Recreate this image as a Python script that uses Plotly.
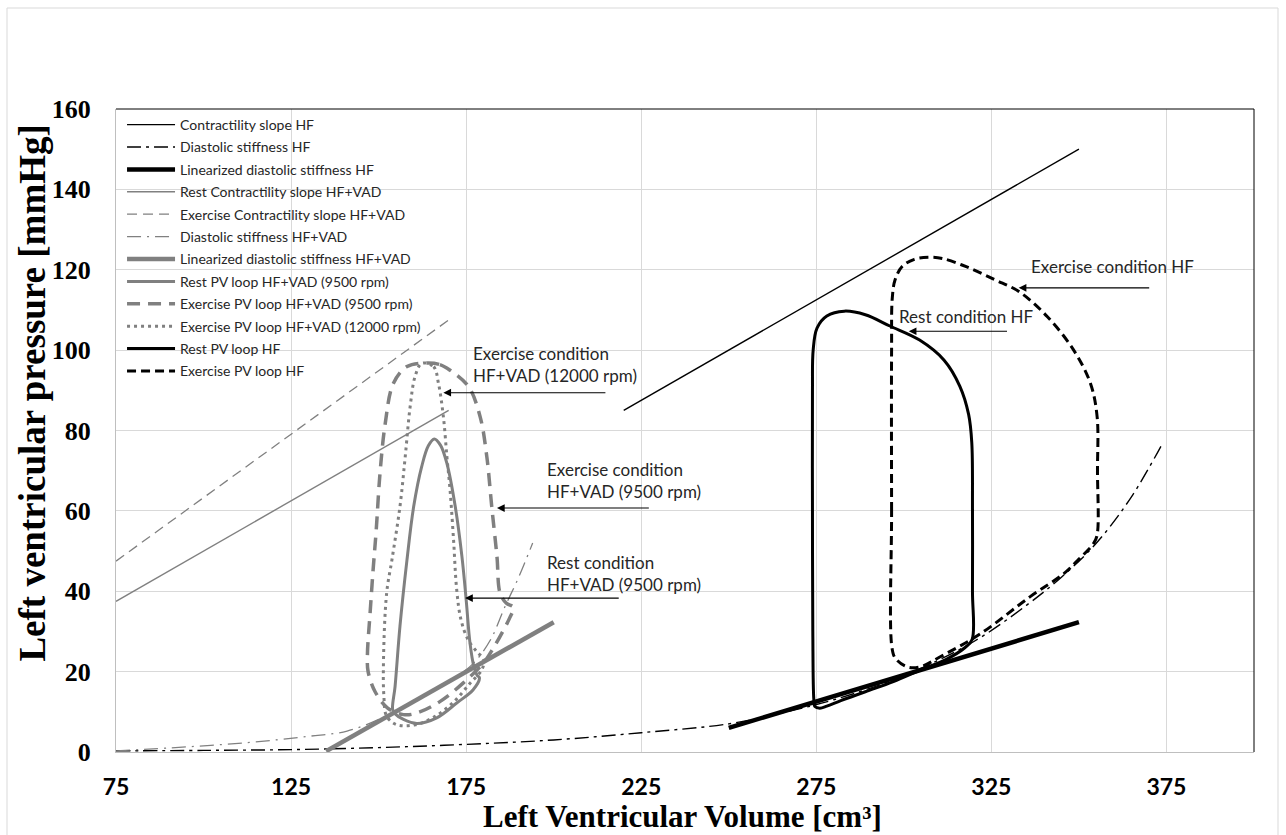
import plotly.graph_objects as go

# ---------------- data ----------------
# straight reference lines (V in cm3, P in mmHg)
contr_hf_v = [220, 350]
contr_hf_p = [85, 150]
rest_contr_vad_v = [75, 170]
rest_contr_vad_p = [37.5, 85]
ex_contr_vad_v = [75, 170]
ex_contr_vad_p = [47.5, 107.5]
lin_hf_v = [250, 350]
lin_hf_p = [6, 32.3]
lin_vad_v = [135, 200]
lin_vad_p = [0.2, 32.3]

# diastolic stiffness curves
dia_hf_v = [75, 100, 125, 150, 175, 200, 225, 250, 265, 280, 300, 320, 335, 345, 355, 365, 374]
dia_hf_p = [0.3, 0.4, 0.6, 1.1, 1.9, 3.0, 4.8, 7.0, 9.7, 13.0, 19.0, 27.5, 36.5, 43.5, 52.0, 63.5, 77.0]
dia_vad_v = [75, 90, 112, 130, 141, 151, 161, 170, 177, 182, 186, 190, 194]
dia_vad_p = [0.3, 1.0, 2.3, 3.9, 5.2, 8.5, 13.0, 17.5, 22.0, 28.0, 36.0, 43.5, 52.0]

# PV loops
rest_vad_v = [154.0, 154.7, 156.1, 158.1, 160.0, 162.3, 164.2, 165.9, 167.7, 169.5, 171.9, 173.8,
              175.0, 176.1, 177.2, 178.2, 178.8, 177.0, 172.3, 166.6, 160.9, 157.1, 154.6, 154.0]
rest_vad_p = [10.6, 16.3, 31.3, 47.8, 61.0, 71.0, 76.2, 77.9, 76.3, 71.8, 61.0, 48.6,
              37.9, 27.1, 21.3, 19.0, 18.5, 15.5, 12.2, 8.5, 7.1, 8.1, 9.6, 10.6]

ex9500_vad_v = [163.8, 167.5, 170.4, 175.7, 179.0, 180.9, 182.3, 183.8, 184.7, 186.5, 188.5, 187.5,
                185.7, 182.8, 180.0, 174.2, 167.6, 160.9, 157.1, 152.5, 149.0, 147.0, 146.8, 147.6,
                148.4, 149.3, 150.4, 151.9, 154.2, 158.1, 163.8]
ex9500_vad_p = [96.8, 96.4, 95.0, 90.9, 83.4, 73.5, 61.1, 48.6, 39.5, 37.0, 36.0, 33.5,
                30.4, 25.9, 22.2, 17.2, 12.6, 9.7, 9.3, 11.0, 15.0, 20.0, 24.0, 35.0,
                45.0, 55.0, 69.4, 81.8, 91.7, 95.9, 96.8]

ex12000_vad_v = [162.3, 165.7, 167.1, 168.5, 169.5, 170.4, 171.4, 172.3, 173.5, 175.5, 178.0, 180.0,
                 179.5, 176.0, 171.5, 166.0, 160.5, 155.2, 152.3, 151.5, 151.4, 152.3, 153.8, 156.1,
                 157.6, 159.0, 160.4, 162.3]
ex12000_vad_p = [96.7, 95.9, 91.7, 83.4, 73.5, 65.2, 52.8, 40.4, 33.0, 28.0, 25.0, 23.0,
                 20.5, 17.0, 12.5, 8.8, 6.8, 6.8, 8.9, 14.0, 23.0, 39.6, 47.8, 61.1,
                 73.5, 85.9, 93.4, 96.7]

rest_hf_v = [274.3, 274.0, 273.9, 273.9, 274.1, 275.2, 278.0, 283.0, 289.0, 296.0, 304.5, 311.5,
             316.0, 318.5, 319.4, 319.6, 319.6, 319.5, 317.5, 312.0, 305.0, 297.0, 289.0, 282.0,
             278.0, 276.0, 274.6, 274.3]
rest_hf_p = [13.0, 30.0, 60.0, 90.0, 100.0, 105.5, 108.5, 109.7, 108.8, 106.0, 102.5, 97.5,
             91.0, 84.0, 77.0, 60.0, 40.0, 28.0, 26.0, 23.0, 20.5, 17.5, 15.0, 12.8,
             11.4, 10.9, 11.3, 13.0]

ex_hf_v = [296.6, 296.5, 296.5, 296.7, 297.5, 299.5, 303.0, 307.0, 311.0, 318.0, 326.0, 333.0,
           341.0, 348.5, 353.3, 355.2, 355.3, 355.2, 354.2, 350.0, 345.7, 336.0, 322.0, 310.4,
           304.7, 300.9, 297.6, 296.6]
ex_hf_p = [26.0, 60.0, 100.0, 113.0, 117.5, 120.8, 122.6, 123.1, 122.8, 120.7, 117.5, 114.5,
           108.3, 100.0, 91.7, 83.4, 70.0, 54.0, 51.9, 48.0, 44.4, 38.6, 29.5, 23.7,
           21.2, 21.2, 23.3, 26.0]

x_ticks = [75, 125, 175, 225, 275, 325, 375]
y_ticks = [0, 20, 40, 60, 80, 100, 120, 140, 160]

# ---------------- styles ----------------
BLACK = "#000000"
GRAY = "#808080"
LEG_FONT = "Lato"

fig = go.Figure()


def add(name, v, p, color, width, dash="solid", shape="linear"):
    fig.add_trace(go.Scatter(
        x=v, y=p, mode="lines", name=name, legendgroup=name,
        line=dict(color=color, width=width, dash=dash, shape=shape),
        hoverinfo="skip"))


add("Contractility slope HF", contr_hf_v, contr_hf_p, BLACK, 1.4)
add("Diastolic stiffness HF", dia_hf_v, dia_hf_p, BLACK, 1.4, "14px,5px,3px,5px", "spline")
add("Linearized diastolic stiffness HF", lin_hf_v, lin_hf_p, BLACK, 4.5)
add("Rest Contractility slope HF+VAD", rest_contr_vad_v, rest_contr_vad_p, GRAY, 1.4)
add("Exercise Contractility slope HF+VAD", ex_contr_vad_v, ex_contr_vad_p, GRAY, 1.3, "10px,6px")
add("Diastolic stiffness HF+VAD", dia_vad_v, dia_vad_p, GRAY, 1.3, "14px,6px,2px,6px", "spline")
add("Linearized diastolic stiffness HF+VAD", lin_vad_v, lin_vad_p, GRAY, 4.5)
add("Rest PV loop HF+VAD (9500 rpm)", rest_vad_v, rest_vad_p, GRAY, 3, "solid", "spline")
add("Exercise PV loop HF+VAD (9500 rpm)", ex9500_vad_v, ex9500_vad_p, GRAY, 3.5, "13px,8px", "spline")
add("Exercise PV loop HF+VAD (12000 rpm)", ex12000_vad_v, ex12000_vad_p, GRAY, 3, "3px,4px", "spline")
add("Rest PV loop HF", rest_hf_v, rest_hf_p, BLACK, 3, "solid", "spline")
add("Exercise PV loop HF", ex_hf_v, ex_hf_p, BLACK, 3, "9px,5px", "spline")

# ---------------- annotations ----------------
ann = []
TXT = dict(family=LEG_FONT, size=17, color="#262626")
texts = [
    ("Exercise condition HF", 335.6, 120.9),
    ("Rest condition HF", 298.1, 108.3),
    ("Exercise condition<br>HF+VAD (12000 rpm)", 176.3, 96.4),
    ("Exercise condition<br>HF+VAD (9500 rpm)", 197.4, 67.5),
    ("Rest condition<br>HF+VAD (9500 rpm)", 197.4, 44.4),
]
for t, x, y in texts:
    ann.append(dict(text=t, x=x, y=y, xref="x", yref="y", xanchor="left", yanchor="middle",
                    align="left", showarrow=False, font=TXT))
arrows = [
    (332.8, 115.5, 370.5, 115.5),
    (301.4, 104.7, 329.9, 104.7),
    (168.5, 89.4, 215.2, 89.4),
    (183.8, 60.7, 227.6, 60.7),
    (174.7, 38.3, 219.0, 38.3),
]
for hx, hy, tx, ty in arrows:
    ann.append(dict(text="", x=hx, y=hy, ax=tx, ay=ty, xref="x", yref="y", axref="x", ayref="y",
                    showarrow=True, arrowhead=2, arrowsize=1.4, arrowwidth=1.1, arrowcolor=BLACK,
                    standoff=0, startstandoff=0))

# axis titles
ann.append(dict(text="<b>Left Ventricular Volume [cm³]</b>", xref="paper", yref="paper",
                x=0.4982, y=-0.1, xanchor="center", yanchor="middle", showarrow=False,
                font=dict(family="Liberation Serif", size=31, color=BLACK)))
ann.append(dict(text="<b>Left ventricular pressure [mmHg]</b>", xref="paper", yref="paper",
                x=-0.0735, y=0.558, xanchor="center", yanchor="middle", showarrow=False, textangle=-90,
                font=dict(family="Liberation Serif", size=37, color=BLACK)))

shapes = [
    # plot frame top and right (black)
    dict(type="line", xref="paper", yref="paper", x0=0, x1=1, y0=1, y1=1,
         line=dict(color=BLACK, width=1), layer="above"),
    dict(type="line", xref="paper", yref="paper", x0=1, x1=1, y0=0, y1=1,
         line=dict(color=BLACK, width=1), layer="above"),
    # chart area border
    dict(type="rect", xref="paper", yref="paper",
         x0=(7 - 116) / 1138, x1=(1278 - 116) / 1138,
         y0=(752 - 840) / 643, y1=(752 - 8) / 643,
         line=dict(color="#d9d9d9", width=1), layer="below"),
]

fig.update_layout(
    width=1286, height=835,
    margin=dict(l=116, r=32, t=109, b=83),
    paper_bgcolor="white", plot_bgcolor="white",
    showlegend=True,
    legend=dict(x=0.0053, y=1.0, xanchor="left", yanchor="top",
                bgcolor="rgba(0,0,0,0)", borderwidth=0,
                font=dict(family=LEG_FONT, size=14, color="#262626"),
                tracegroupgap=1.2, itemwidth=48, traceorder="grouped"),
    annotations=ann, shapes=shapes,
    xaxis=dict(range=[75, 400], tickmode="array", tickvals=x_ticks,
               ticktext=[str(v) for v in x_ticks],
               showgrid=True, gridcolor="#d9d9d9", gridwidth=1.3,
               zeroline=False, showline=True, linecolor="#bfbfbf", linewidth=1.3,
               ticks="", ticklabelstandoff=14,
               tickfont=dict(family="Lato", size=23, color=BLACK, weight="bold")),
    yaxis=dict(range=[0, 160], tickmode="array", tickvals=y_ticks,
               ticktext=[str(v) for v in y_ticks],
               showgrid=True, gridcolor="#d9d9d9", gridwidth=1.3,
               zeroline=False, showline=True, linecolor="#bfbfbf", linewidth=1.3,
               ticks="", ticklabelstandoff=19,
               tickfont=dict(family="Liberation Serif", size=26, color=BLACK, weight="bold")),
)

fig.write_html("out.html", config={"displayModeBar": False},
               post_script="document.body.style.margin='0px';")
